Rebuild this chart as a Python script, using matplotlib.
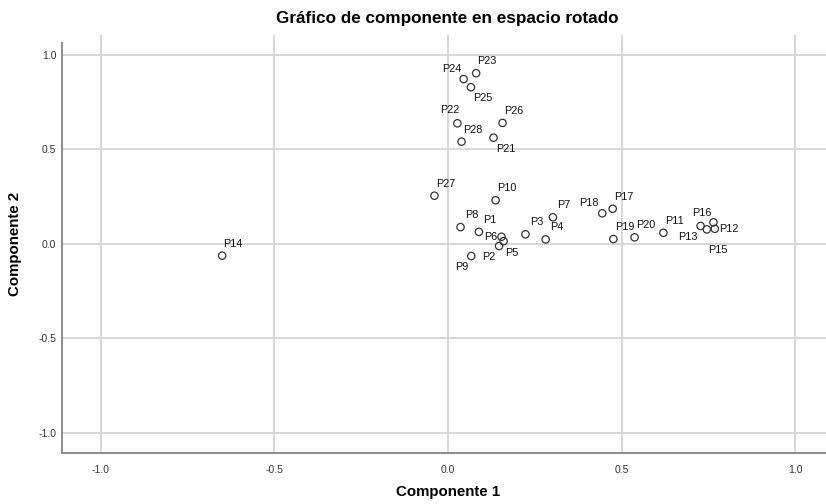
# component plot in rotated space (SPSS style)
import matplotlib
matplotlib.use('Agg')
import matplotlib.pyplot as plt

plt.rcParams['font.family'] = ['Liberation Sans', 'DejaVu Sans']

# loadings
labels = ['P1', 'P2', 'P3', 'P4', 'P5', 'P6', 'P7', 'P8', 'P9', 'P10',
          'P11', 'P12', 'P13', 'P14', 'P15', 'P16', 'P17', 'P18', 'P19', 'P20',
          'P21', 'P22', 'P23', 'P24', 'P25', 'P26', 'P27', 'P28']
comp1 = [0.089, 0.147, 0.223, 0.281, 0.160, 0.154, 0.302, 0.036, 0.067, 0.137,
         0.620, 0.764, 0.745, -0.650, 0.768, 0.727, 0.474, 0.444, 0.476, 0.537,
         0.131, 0.027, 0.081, 0.045, 0.066, 0.157, -0.039, 0.039]
comp2 = [0.063, -0.012, 0.050, 0.023, 0.014, 0.037, 0.140, 0.088, -0.065, 0.230,
         0.058, 0.113, 0.076, -0.063, 0.079, 0.094, 0.185, 0.161, 0.025, 0.034,
         0.561, 0.637, 0.902, 0.871, 0.828, 0.639, 0.254, 0.540]
ticks = [-1.0, -0.5, 0.0, 0.5, 1.0]

# label offsets in pixels (dx right, dy up)
ur = (11, 12)
offs = {'P2': (-10, -11), 'P5': (8, -12), 'P6': (-11, 0), 'P9': (-10, -11),
        'P12': (15, -7), 'P13': (-19, -8), 'P15': (3, -21), 'P16': (1, 13),
        'P18': (-13, 10), 'P21': (12, -11), 'P22': (-8, 13), 'P24': (-12, 10),
        'P25': (12, -11)}

W, H = 826, 504
fig = plt.figure(figsize=(W / 100, H / 100), dpi=100)
ax = fig.add_axes([62 / W, (H - 452.7) / H, 772 / W, 417.7 / H])

ax.scatter(comp1, comp2, s=28, facecolors='none', edgecolors='#333333',
           linewidths=0.9, zorder=3)
for name, x, y in zip(labels, comp1, comp2):
    dx, dy = offs.get(name, ur)
    ax.annotate(name, (x, y), xytext=(dx, dy), textcoords='offset pixels',
                ha='center', va='center', fontsize=7.8, color='#111111', zorder=4)

ax.set_xlim(-1.111, 1.111)
ax.set_ylim(-1.105, 1.104)
ax.set_xticks(ticks)
ax.set_yticks(ticks)
ax.set_xticklabels(['%.1f' % t for t in ticks])
ax.set_yticklabels(['%.1f' % t for t in ticks])
ax.tick_params(length=0, labelsize=7.5, colors='#333333')
ax.tick_params(axis='x', pad=9)
ax.tick_params(axis='y', pad=4)
ax.grid(True, color='#d4d4d4', linewidth=1.3)
ax.set_axisbelow(True)
for s in ['top', 'right']:
    ax.spines[s].set_visible(False)
for s in ['left', 'bottom']:
    ax.spines[s].set_color('#8c8c8c')
    ax.spines[s].set_linewidth(1.4)
ax.spines['left'].set_bounds(-1.105, 1.062)

ax.set_xlabel('Componente 1', fontsize=10.8, fontweight='bold', va='center')
ax.set_ylabel('Componente 2', fontsize=10.8, fontweight='bold', va='center')
ax.xaxis.set_label_coords((448.3 - 62) / 772, (452.7 - 491.7) / 417.7)
ax.yaxis.set_label_coords((15 - 62) / 772, (452.7 - 243.7) / 417.7)

fig.text(447 / W, 1 - 18 / H, 'Gráfico de componente en espacio rotado',
         ha='center', va='center', fontsize=12.3, fontweight='bold')

fig.savefig('out.png', dpi=100)
